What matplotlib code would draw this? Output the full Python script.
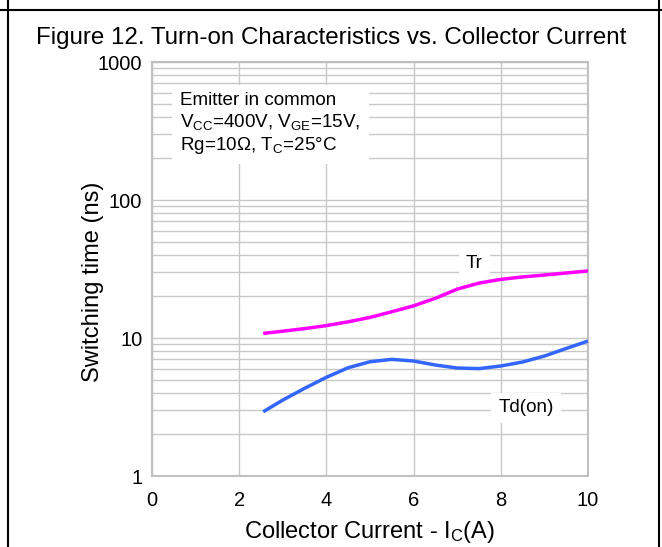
import matplotlib
matplotlib.use('Agg')
import matplotlib.pyplot as plt
from matplotlib.lines import Line2D
from matplotlib.ticker import LogLocator, NullFormatter, FixedLocator, FixedFormatter

plt.rcParams['font.family'] = ['Liberation Sans', 'DejaVu Sans']
plt.rcParams['mathtext.fontset'] = 'custom'
plt.rcParams['mathtext.rm'] = 'Liberation Sans'
plt.rcParams['mathtext.it'] = 'Liberation Sans'

# data
ic = [2.55, 3.0, 3.5, 4.0, 4.5, 5.0, 5.5, 6.0, 6.5, 7.0, 7.5, 8.0, 8.5, 9.0, 9.5, 10.0]
tr = [10.8, 11.2, 11.7, 12.3, 13.1, 14.1, 15.5, 17.1, 19.4, 22.6, 25.0, 26.6, 27.7, 28.6, 29.6, 30.6]
td_on = [2.92, 3.55, 4.32, 5.19, 6.09, 6.73, 7.0, 6.81, 6.37, 6.06, 6.0, 6.27, 6.7, 7.4, 8.4, 9.5]
x_ticks = [0, 2, 4, 6, 8, 10]
y_ticks = [1, 10, 100, 1000]

grid_col = '#c8c8c8'

fig = plt.figure(figsize=(6.62, 5.47), dpi=100)
ax = fig.add_axes([152 / 662, 71 / 547, 436 / 662, 414 / 547])

ax.plot(ic, tr, color='#ff00ff', lw=2.5, solid_capstyle='butt', zorder=4)
ax.plot(ic, td_on, color='#3366ff', lw=2.5, solid_capstyle='butt', zorder=4)

ax.set_yscale('log')
ax.set_xlim(0, 10)
ax.set_ylim(1, 1000)
ax.xaxis.set_major_locator(FixedLocator(x_ticks))
ax.yaxis.set_major_locator(FixedLocator(y_ticks))
ax.yaxis.set_major_formatter(FixedFormatter([str(v) for v in y_ticks]))
ax.yaxis.set_minor_locator(LogLocator(base=10, subs=range(2, 10)))
ax.yaxis.set_minor_formatter(NullFormatter())
ax.grid(True, which='both', color=grid_col, lw=1.0, zorder=0)
ax.tick_params(which='both', length=0, labelsize=14.5)
ax.tick_params(axis='y', pad=7)
ax.tick_params(axis='x', pad=11)
for s in ax.spines.values():
    s.set_color('#c0c0c0')
    s.set_linewidth(1.5)

ax.set_xlabel('Collector Current - I$_{\\mathrm{C}}$(A)', fontsize=17, labelpad=6)
ax.set_ylabel('Switching time (ns)', fontsize=17)
ax.yaxis.set_label_coords(-0.111, 0.47)

box = dict(facecolor='white', edgecolor='none', pad=6)
ax.text(0.64, 610,
        'Emitter in common\n'
        'V$_{\\mathrm{CC}}$=400V, V$_{\\mathrm{GE}}$=15V,\n'
        'Rg=10\u03a9, T$_{\\mathrm{C}}$=25\u00b0C',
        fontsize=13.6, ha='left', va='top', linespacing=1.2, bbox=box, zorder=5)
ax.text(7.39, 34.9, 'Tr', fontsize=13.6, ha='center', va='center',
        bbox=dict(facecolor='white', edgecolor='none', pad=5), zorder=5)
ax.text(8.58, 3.11, 'Td(on)', fontsize=13.6, ha='center', va='center',
        bbox=dict(facecolor='white', edgecolor='none', pad=5), zorder=5)

fig.text(0.5, 1 - 38 / 547, 'Figure 12. Turn-on Characteristics vs. Collector Current',
         fontsize=17.4, ha='center', va='center')

# outer table frame
fig.add_artist(Line2D([8 / 662, 8 / 662], [0, 1], color='black', lw=1.5))
fig.add_artist(Line2D([659 / 662, 659 / 662], [0, 1], color='black', lw=1.5))
fig.add_artist(Line2D([0, 1], [1 - 10 / 547, 1 - 10 / 547], color='black', lw=1.5))

plt.savefig('out.png', dpi=100)
plt.close()
